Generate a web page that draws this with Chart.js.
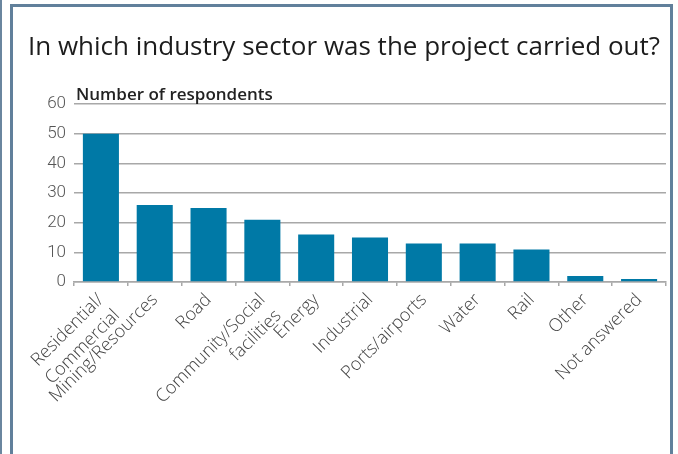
<!DOCTYPE html>
<html>
<head>
<meta charset="utf-8">
<script src="https://cdn.jsdelivr.net/npm/chart.js@4"></script>
<style>
  html, body { margin: 0; padding: 0; background: #fff; overflow: hidden; }
  #wrap { position: relative; width: 678px; height: 454px; }
  #c { position: absolute; left: 0; top: 0; }
  .strip { position: absolute; left: 0; top: 0; width: 2px; height: 454px; background: #6a869f; }
  .frame { position: absolute; left: 10px; top: 4px; width: 663px; height: 470px; box-sizing: border-box;
           border: 3px solid #61809b; border-bottom: none; pointer-events: none; }
</style>
</head>
<body>
<div id="wrap">
  <canvas id="c" width="678" height="454"></canvas>
  <div class="strip"></div>
  <div class="frame"></div>
</div>
<script>
const categories = [
  ["Residential/", "Commercial"],
  "Mining/Resources",
  "Road",
  ["Community/Social", "facilities"],
  "Energy",
  "Industrial",
  "Ports/airports",
  "Water",
  "Rail",
  "Other",
  "Not answered"
];
const respondents = [50, 26, 25, 21, 16, 15, 13, 13, 11, 2, 1];
const yTicks = [0, 10, 20, 30, 40, 50, 60];
const titleText = "In which industry sector was the project carried out?";
const axisLabel = "Number of respondents";

const axisLabelPlugin = {
  id: "axisLabel",
  afterDraw(chart) {
    const ctx = chart.ctx;
    const a = chart.chartArea;
    ctx.save();
    ctx.font = "600 17px 'Open Sans'";
    ctx.fillStyle = "#222";
    ctx.textAlign = "left";
    ctx.textBaseline = "alphabetic";
    ctx.fillText(axisLabel, a.left + 2, a.top - 4);
    ctx.restore();
  }
};

new Chart(document.getElementById("c"), {
  type: "bar",
  data: {
    labels: categories,
    datasets: [{
      data: respondents,
      backgroundColor: "#0079a6",
      borderWidth: 0,
      barPercentage: 0.67,
      categoryPercentage: 1
    }]
  },
  options: {
    responsive: false,
    animation: false,
    devicePixelRatio: 1,
    layout: { padding: { left: 22, right: 12, top: 0, bottom: 0 } },
    plugins: {
      legend: { display: false },
      tooltip: { enabled: false },
      title: {
        display: true,
        text: titleText,
        color: "#1c1c1c",
        font: { family: "'Open Sans'", size: 26, weight: "normal", lineHeight: 1.2 },
        padding: { top: 32, bottom: 41 }
      }
    },
    scales: {
      y: {
        min: 0, max: 60,
        afterBuildTicks(scale) { scale.ticks = yTicks.map(v => ({ value: v })); },
        afterFit(scale) { scale.width = 52; },
        border: { display: false },
        grid: { color: "#a8a8a8", lineWidth: 1.5, drawTicks: false },
        ticks: {
          padding: 8,
          color: "#555",
          font: { family: "Roboto", size: 17, weight: 300 }
        }
      },
      x: {
        afterFit(scale) { scale.height = 172; },
        border: { display: true, color: "#a8a8a8", width: 1.5 },
        grid: { offset: true, drawOnChartArea: false, color: "#a8a8a8", lineWidth: 1.5, tickLength: 4 },
        ticks: {
          autoSkip: false,
          minRotation: 45, maxRotation: 45,
          padding: 3,
          color: "#444",
          font: { family: "'Open Sans'", size: 18, weight: 300, lineHeight: 1.25 }
        }
      }
    }
  },
  plugins: [axisLabelPlugin]
});
</script>
</body>
</html>
